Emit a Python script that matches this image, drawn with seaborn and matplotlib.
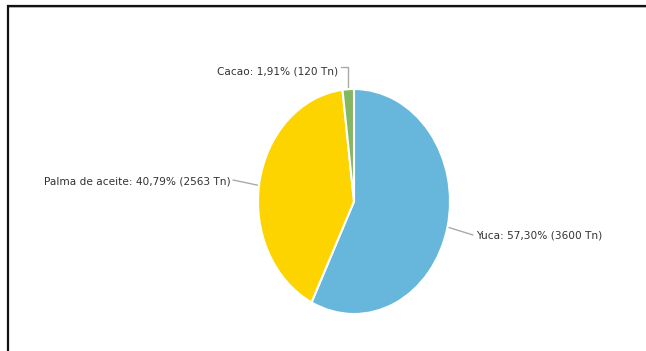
import numpy as np
import matplotlib
matplotlib.use("Agg")
import matplotlib.pyplot as plt
import seaborn as sns

# data
cultivos = ["Yuca", "Palma de aceite", "Cacao"]
toneladas = [3600, 2563, 120]
colores = ["#67b7dc", "#fdd400", "#84b761"]

sns.set_theme(style="white")
plt.rcParams["font.family"] = ["DejaVu Sans"]

W, H = 646, 351
fig = plt.figure(figsize=(W / 100, H / 100), dpi=100)

# pie box in pixels (left, top, width, height) -> ellipse
px, py, pw, ph = 258, 89, 192, 225
ax = fig.add_axes([px / W, 1 - (py + ph) / H, pw / W, ph / H])
wedges, _ = ax.pie(toneladas, colors=colores, startangle=90, counterclock=False,
                   wedgeprops=dict(edgecolor="white", linewidth=1.5))
ax.set_aspect("auto")
ax.set_xlim(-1, 1)
ax.set_ylim(-1, 1)

# overlay axes in pixel coords for labels and frame
ov = fig.add_axes([0, 0, 1, 1], zorder=-1)
ov.set_xlim(0, W)
ov.set_ylim(H, 0)
ov.axis("off")
ov.patch.set_alpha(0)

cx, cy = px + pw / 2, py + ph / 2
total = sum(toneladas)
# label anchor (x, y) and alignment per slice
label_pos = [(476, 235, "left"), (231, 181, "right"), (338, 71, "right")]
for w, nombre, t, (lx, ly, ha) in zip(wedges, cultivos, toneladas, label_pos):
    ang = np.deg2rad((w.theta1 + w.theta2) / 2)
    ex = cx + pw / 2 * np.cos(ang)
    ey = cy - ph / 2 * np.sin(ang)
    pct = f"{100 * t / total:.2f}".replace(".", ",")
    ov.text(lx, ly, f"{nombre}: {pct}% ({t} Tn)", ha=ha, va="center",
            fontsize=7.6, color="#333333")
    if ha == "left":
        xs, ys = [ex, lx - 3], [ey, ly]
    elif abs(ex - lx) < 20:
        xs, ys = [lx + 3, ex, ex], [ly - 4, ly - 4, ey]
    else:
        xs, ys = [lx + 2, ex], [ly - 1, ey + 3]
    ov.plot(xs, ys, color="#aaaaaa", lw=1, zorder=0)

# frame lines top and left
ov.plot([7, W], [6.5, 6.5], color="#bbbbbb", lw=1.2, solid_capstyle="butt")
ov.plot([7, W], [5.8, 5.8], color="#111111", lw=1.6, solid_capstyle="butt")
ov.plot([8.2, 8.2], [6, H], color="#bbbbbb", lw=1.2, solid_capstyle="butt")
ov.plot([7.5, 7.5], [5, H], color="#111111", lw=1.6, solid_capstyle="butt")

fig.savefig("out.png", dpi=100, facecolor="white")
